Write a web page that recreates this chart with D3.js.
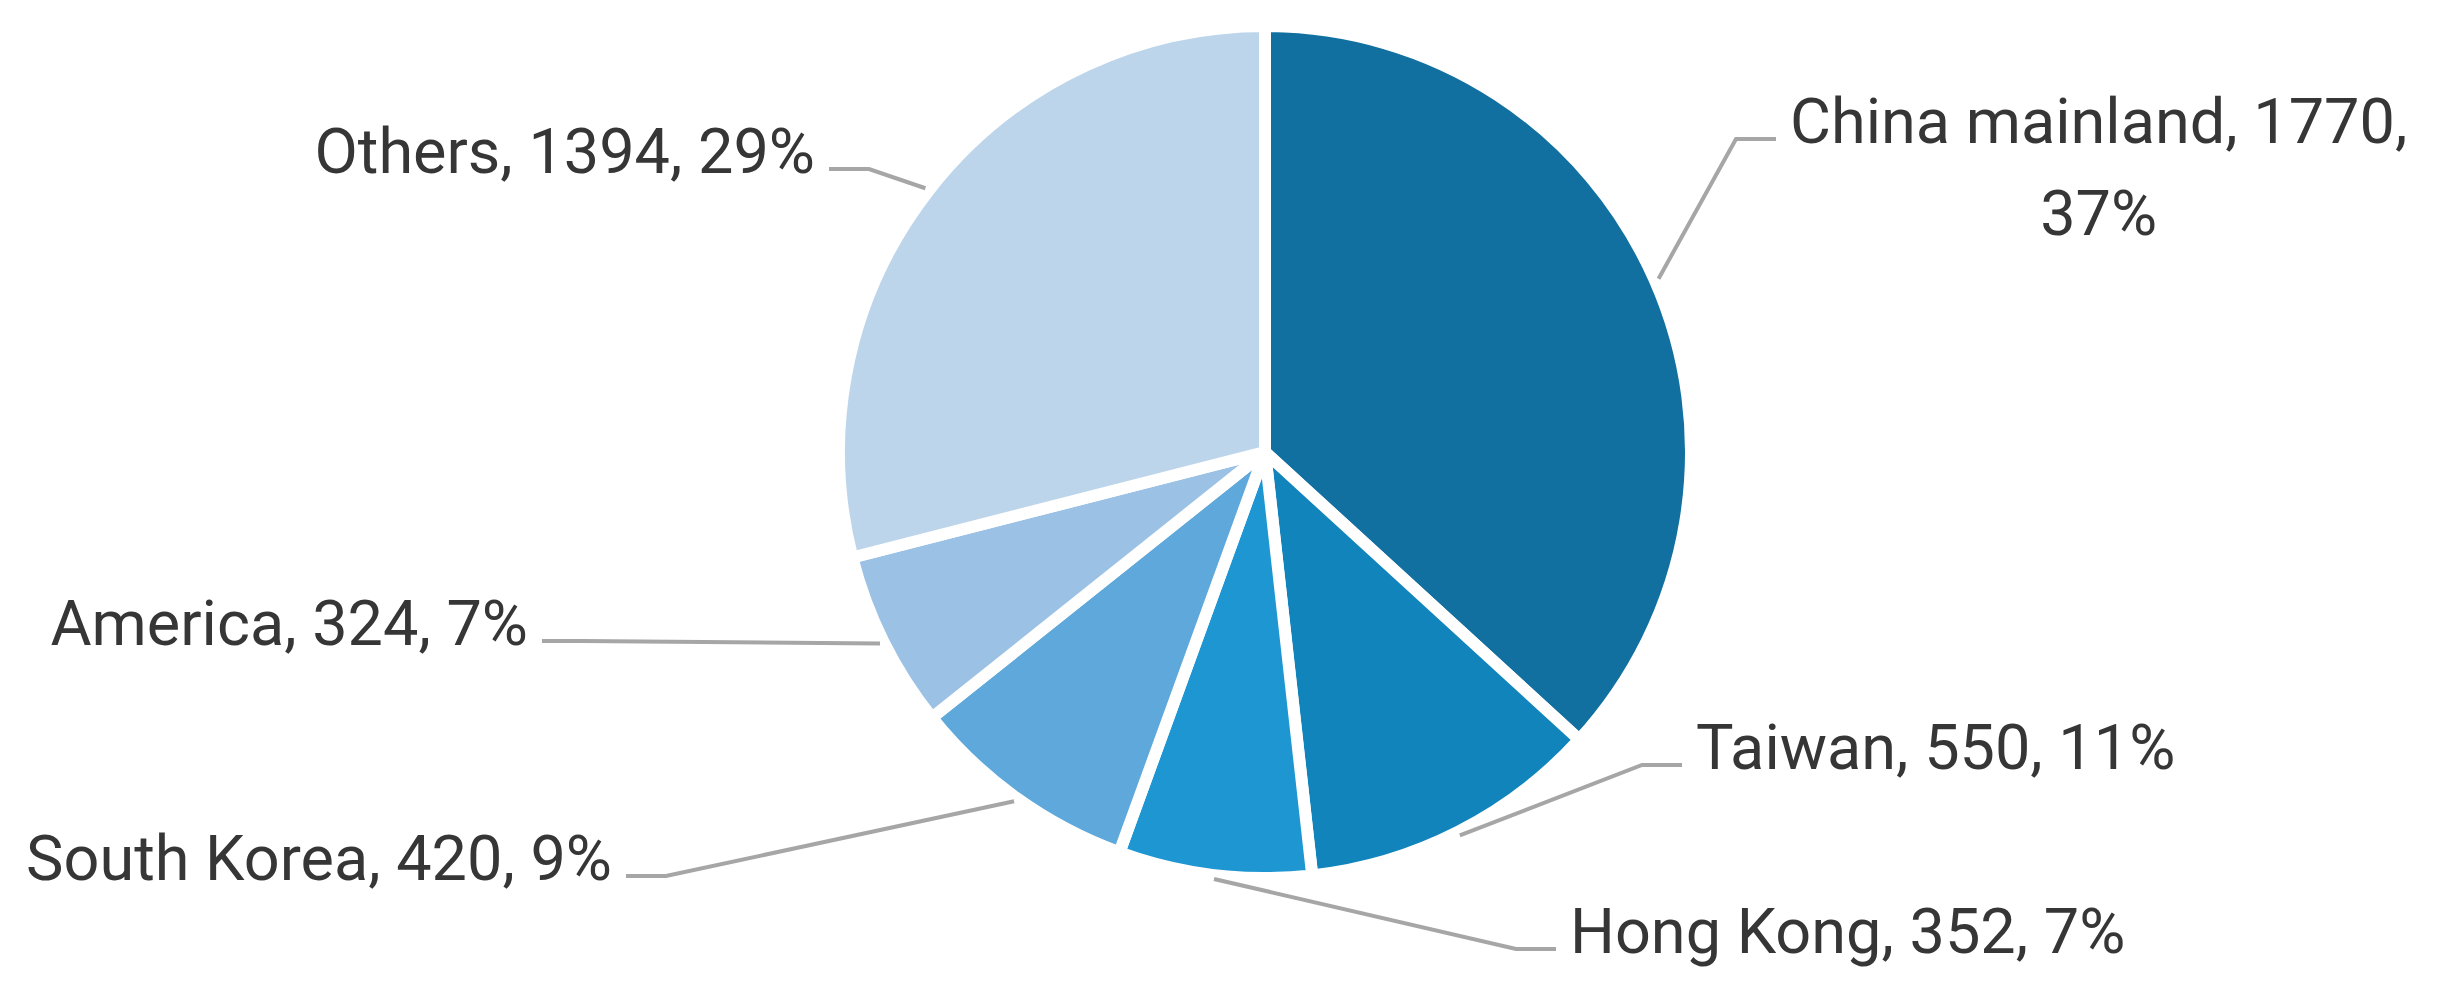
<!DOCTYPE html>
<html>
<head>
    <title>pie chart</title>
    <script type="text/javascript" src="https://cdn.jsdelivr.net/npm/d3@7/dist/d3.min.js"></script>
    <style type="text/css">
        html, body {
            margin: 0;
            padding: 0;
            background-color: #fff;
        }
        #pie {
            display: block;
        }
        .slice {
            stroke: #fff;
            stroke-width: 12px;
            stroke-linejoin: round;
        }
        .leader {
            fill: none;
            stroke: #a6a6a6;
            stroke-width: 4px;
        }
        .label {
            font-family: Roboto, "Liberation Sans", sans-serif;
            font-size: 63px;
            fill: #363636;
        }
    </style>
</head>

<body>
    <svg id="pie" width="2449" height="1008"></svg>
</body>

<script type="text/javascript">
    const categories = ["China mainland", "Taiwan", "Hong Kong", "South Korea", "America", "Others"];
    const values = [1770, 550, 352, 420, 324, 1394];
    const colors = ["#1170a0", "#1284bc", "#1e96d2", "#5fa8db", "#9bc1e5", "#bdd5eb"];

    // where each label sits (text edge nearest the pie, baseline)
    const labelLayout = {
        "China mainland": {x: 1790, y: 143, side: "right", wrap: true},
        "Taiwan":         {x: 1696, y: 769, side: "right"},
        "Hong Kong":      {x: 1570, y: 953, side: "right"},
        "South Korea":    {x: 612,  y: 880, side: "left"},
        "America":        {x: 528,  y: 645, side: "left"},
        "Others":         {x: 815,  y: 173, side: "left"}
    };

    const cx = 1265, cy = 452;
    const radius = 426;

    let data = categories.map(function(c, i) {
        return {name: c, val: values[i]};
    });
    let total = d3.sum(values);

    let svg = d3.select("#pie");
    let g = svg.append("g").attr("transform", "translate(" + cx + "," + cy + ")");

    let pie = d3.pie().sort(null).value(function(d) { return d.val; });
    let arc = d3.arc().innerRadius(0).outerRadius(radius);
    let edge = d3.arc().innerRadius(430).outerRadius(430);

    let color = d3.scaleOrdinal().domain(categories).range(colors);

    let arcs = pie(data);

    g.selectAll("path.slice")
        .data(arcs)
        .enter().append("path")
        .attr("class", "slice")
        .attr("d", arc)
        .attr("fill", function(d) { return color(d.data.name); });

    // leader lines and labels
    let gap = 14, hlen = 40;
    arcs.forEach(function(d) {
        let lay = labelLayout[d.data.name];
        let p = edge.centroid(d);
        let start = [cx + p[0], cy + p[1]];
        let ly = lay.y - 4;
        let dir = lay.side === "right" ? -1 : 1;
        let endX = lay.x + dir * gap;
        let elbowX = endX + dir * hlen;

        svg.append("path")
            .attr("class", "leader")
            .attr("d", d3.line()([start, [elbowX, ly], [endX, ly]]));

        let pct = Math.round(d.data.val / total * 100) + "%";
        let text = svg.append("text")
            .attr("class", "label")
            .attr("x", lay.x)
            .attr("y", lay.y)
            .attr("text-anchor", lay.side === "right" ? "start" : "end");

        if (lay.wrap) {
            text.text(d.data.name + ", " + d.data.val + ",");
            let w = text.node().getComputedTextLength();
            svg.append("text")
                .attr("class", "label")
                .attr("x", lay.x + w / 2)
                .attr("y", lay.y + 92)
                .attr("text-anchor", "middle")
                .text(pct);
        } else {
            text.text(d.data.name + ", " + d.data.val + ", " + pct);
        }
    });
</script>

</html>
